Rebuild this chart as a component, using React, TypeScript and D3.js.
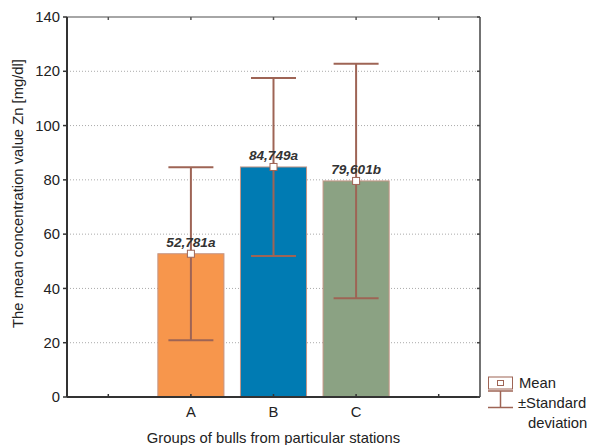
import React from "react";
import * as d3 from "d3";

const categories = ["", "A", "B", "C", ""];
const groups = ["A", "B", "C"];
const means = [52.781, 84.749, 79.601];
const sds = [31.9, 32.8, 43.2];
const labels = ["52,781a", "84,749a", "79,601b"];
const barColors = ["#F7964C", "#007BB3", "#8BA283"];
const yTicks = [0, 20, 40, 60, 80, 100, 120, 140];

const W = 591, H = 445;
const L = 67, R = 480, T = 17, B = 397;
const errColor = "#9E6455";

export default function App() {
  const x = d3.scaleBand<number>().domain(d3.range(categories.length)).range([L, R]).padding(0);
  const y = d3.scaleLinear().domain([0, 140]).range([B, T]);
  const bw = x.bandwidth() * 0.8;
  const cx = (i: number) => (x(i) as number) + x.bandwidth() / 2;
  const font = "'Liberation Sans', Arial, sans-serif";
  const fs = 14.8;
  return (
    <svg width={W} height={H} style={{ position: "absolute", left: 0, top: 0, background: "#fff" }} fontFamily={font}>
      {yTicks.filter(t => t > 0 && t < 140).map(t => (
        <line key={"g" + t} x1={L} x2={R} y1={y(t)} y2={y(t)} stroke="#aaa" strokeWidth={1} strokeDasharray="1,2" />
      ))}
      {groups.map((g, k) => {
        const i = categories.indexOf(g);
        return (
          <rect key={"b" + g} x={cx(i) - bw / 2} y={y(means[k])} width={bw} height={B - y(means[k])}
            fill={barColors[k]} stroke="#C49585" strokeWidth={1} />
        );
      })}
      {groups.map((g, k) => {
        const i = categories.indexOf(g);
        const c = cx(i);
        const hi = y(means[k] + sds[k]);
        const lo = y(means[k] - sds[k]);
        const m = y(means[k]);
        return (
          <g key={"e" + g}>
            <line x1={c} x2={c} y1={hi} y2={lo} stroke={errColor} strokeWidth={2} />
            <line x1={c - 22.5} x2={c + 22.5} y1={hi} y2={hi} stroke={errColor} strokeWidth={2} />
            <line x1={c - 22.5} x2={c + 22.5} y1={lo} y2={lo} stroke={errColor} strokeWidth={2} />
            <rect x={c - 3.5} y={m - 3.5} width={7} height={7} fill="#fff" stroke={errColor} strokeWidth={1} />
            <text x={c} y={m - 7} textAnchor="middle" fontSize={13.6} fontWeight="bold" fontStyle="italic" fill="#333">{labels[k]}</text>
          </g>
        );
      })}
      <line x1={L} x2={R} y1={T} y2={T} stroke="#888" strokeWidth={1.5} />
      <line x1={R} x2={R} y1={T} y2={B} stroke="#444" strokeWidth={1.5} />
      <line x1={L} x2={L} y1={T} y2={B} stroke="#333" strokeWidth={2} />
      <line x1={L} x2={R} y1={B} y2={B} stroke="#333" strokeWidth={2} />
      {yTicks.map(t => (
        <g key={"y" + t}>
          <line x1={L - 4} x2={L} y1={y(t)} y2={y(t)} stroke="#333" strokeWidth={1.5} />
          <line x1={R - 3} x2={R} y1={y(t)} y2={y(t)} stroke="#444" strokeWidth={1.5} />
          <text x={L - 7} y={y(t)} dy="0.35em" textAnchor="end" fontSize={fs} fill="#222">{t}</text>
        </g>
      ))}
      {categories.map((c, i) => (
        <g key={"x" + i}>
          <line x1={cx(i)} x2={cx(i)} y1={B} y2={B - 3} stroke="#333" strokeWidth={1.5} />
          <line x1={cx(i)} x2={cx(i)} y1={T} y2={T + 3} stroke="#555" strokeWidth={1.5} />
          <text x={cx(i)} y={417} textAnchor="middle" fontSize={fs} fill="#222">{c}</text>
        </g>
      ))}
      <text x={273.5} y={443} textAnchor="middle" fontSize={fs} fill="#222">Groups of bulls from particular stations</text>
      <text transform={`translate(23,193.5) rotate(-90)`} textAnchor="middle" fontSize={fs} fill="#222">The mean concentration value Zn [mg/dl]</text>
      <g>
        <rect x={488.5} y={377} width={24} height={12} fill="#fff" stroke={errColor} strokeWidth={1} />
        <rect x={497.5} y={380.5} width={6} height={5} fill="#fff" stroke={errColor} strokeWidth={1} />
        <line x1={488} x2={513} y1={391} y2={391} stroke={errColor} strokeWidth={1.5} />
        <line x1={500.5} x2={500.5} y1={391} y2={407} stroke={errColor} strokeWidth={1.5} />
        <line x1={488} x2={513} y1={407.5} y2={407.5} stroke={errColor} strokeWidth={1.5} />
        <text x={519} y={388} fontSize={fs} fill="#222">Mean</text>
        <text x={518} y={408} fontSize={fs} fill="#222">±Standard</text>
        <text x={528} y={428} fontSize={fs} fill="#222">deviation</text>
      </g>
    </svg>
  );
}
